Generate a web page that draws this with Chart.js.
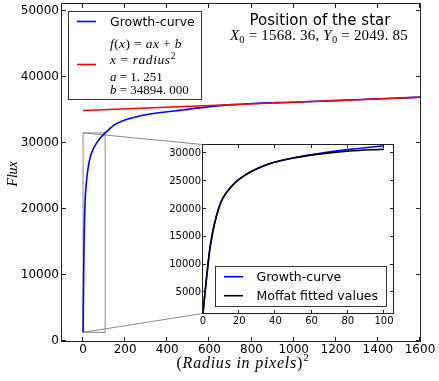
<!DOCTYPE html>
<html>
<head>
<meta charset="utf-8">
<script src="https://cdn.jsdelivr.net/npm/chart.js@4.4.1/dist/chart.umd.min.js"></script>
<style>
  html, body { margin: 0; padding: 0; background: #fff; }
  #quadro { position: relative; width: 439px; height: 381px; }
  #principal { position: absolute; left: 0; top: 0; }
  #inset { position: absolute; left: 160px; top: 140px; }
</style>
</head>
<body>
<div id="quadro">
  <canvas id="principal" width="439" height="381"></canvas>
  <canvas id="inset" width="240" height="190"></canvas>
</div>
<script>
// ------------------------
// Dados
// ------------------------

// Curva de crescimento: raio^2 (px^2) e fluxo acumulado
const raio2 = [0, 1, 4, 9, 16, 25, 36, 49, 64, 81, 100, 121, 144, 169, 196, 225, 256, 289, 324, 361, 400,
  441, 484, 529, 576, 625, 676, 729, 784, 841, 900, 961, 1024, 1089, 1156, 1225, 1296, 1369, 1444, 1521, 1600];
const fluxo = [1300, 4600, 13300, 20500, 24100, 26400, 28050, 29100, 29950, 30700, 31350, 31950, 32600, 33050,
  33400, 33700, 33950, 34200, 34400, 34550, 34700, 34850, 35000, 35200, 35350, 35550, 35700, 35800, 35900,
  36000, 36050, 36100, 36170, 36250, 36340, 36420, 36510, 36600, 36700, 36800, 36900];

// Ajuste linear f(x) = ax + b (pontos extremos)
const ajusteX = [0, 1600];
const ajusteY = [34894, 36896];

// Valores do ajuste de Moffat (só no zoom)
const raio2Moffat = [0, 1, 4, 9, 16, 25, 36, 49, 64, 81, 100];
const fluxoMoffat = [1300, 4650, 13300, 20400, 24150, 26450, 28050, 29100, 29850, 30400, 30720];

// Eixos
const ticksX = [0, 200, 400, 600, 800, 1000, 1200, 1400, 1600];
const ticksY = [0, 10000, 20000, 30000, 40000, 50000];
const limX = [-100, 1600];
const limY = [0, 51000];

const ticksXInset = [0, 20, 40, 60, 80, 100];
const ticksYInset = [5000, 10000, 15000, 20000, 25000, 30000];
const limXInset = [0, 105];
const limYInset = [1310, 31490];

// ------------------------
// Utilidades
// ------------------------

const AZUL = '#0000ff';
const VERMELHO = '#ff0000';
const PRETO = '#000000';

function pontos(xs, ys) {
  return xs.map((x, i) => ({ x, y: ys[i] }));
}

function linha(ctx, x1, y1, x2, y2) {
  ctx.beginPath();
  ctx.moveTo(x1, y1);
  ctx.lineTo(x2, y2);
  ctx.stroke();
}

// Texto "matemático": partes [texto, estilo], estilo = 'i' | 'r' | 'sub' | 'sup'
function desenharMath(ctx, partes, x, y, tam, alinhar, larguraAlvo) {
  const fonte = st => {
    const s = (st === 'sub' || st === 'sup') ? tam * 0.7 : tam;
    return (st === 'i' ? 'italic ' : '') + s + 'px "Liberation Serif"';
  };
  let largura = 0;
  let nChars = 0;
  partes.forEach(([t, st]) => {
    ctx.font = fonte(st);
    largura += ctx.measureText(t).width;
    nChars += t.length;
  });
  let esp = 0;
  if (larguraAlvo) {
    esp = (larguraAlvo - largura) / nChars;
    largura = larguraAlvo;
  }
  let cx = alinhar === 'center' ? x - largura / 2 : x;
  ctx.textAlign = 'left';
  ctx.textBaseline = 'alphabetic';
  partes.forEach(([t, st]) => {
    ctx.font = fonte(st);
    let dy = 0;
    if (st === 'sub') dy = tam * 0.22;
    if (st === 'sup') dy = -tam * 0.42;
    let px = cx;
    for (const c of t) {
      ctx.fillText(c, px, y + dy);
      px += ctx.measureText(c).width + esp;
    }
    cx = px;
  });
}

function fixarTicks(lista) {
  return escala => { escala.ticks = lista.map(v => ({ value: v })); };
}

function fixarTamanho(prop, valor) {
  return escala => {
    escala[prop] = valor;
    escala.paddingLeft = 0;
    escala.paddingRight = 0;
    escala.paddingTop = 0;
    escala.paddingBottom = 0;
  };
}

const semVirgula = v => String(v);

// Moldura com ticks para dentro nos quatro lados
function pluginMoldura(tamTick) {
  return {
    id: 'moldura',
    afterDatasetsDraw(chart) {
      const { ctx, chartArea: a, scales } = chart;
      ctx.save();
      ctx.strokeStyle = '#222';
      ctx.lineWidth = 1;
      ctx.strokeRect(a.left - 0.5, a.top - 0.5, a.right - a.left + 1, a.bottom - a.top + 1);
      scales.x.ticks.forEach(t => {
        const px = Math.round(scales.x.getPixelForValue(t.value)) - 0.5;
        linha(ctx, px, a.bottom, px, a.bottom - tamTick);
        linha(ctx, px, a.top, px, a.top + tamTick);
      });
      scales.y.ticks.forEach(t => {
        const py = Math.round(scales.y.getPixelForValue(t.value)) - 0.5;
        linha(ctx, a.left, py, a.left + tamTick, py);
        linha(ctx, a.right, py, a.right - tamTick, py);
      });
      ctx.restore();
    }
  };
}

const fundoBranco = {
  id: 'fundoBranco',
  beforeDraw(chart) {
    const { ctx, chartArea: a } = chart;
    ctx.save();
    ctx.fillStyle = '#fff';
    ctx.fillRect(a.left, a.top, a.right - a.left, a.bottom - a.top);
    ctx.restore();
  }
};

// ------------------------
// Gráfico do zoom (inset)
// ------------------------

const insetEl = document.getElementById('inset');
const nInset = raio2Moffat.length;

const legendaInset = {
  id: 'legendaInset',
  afterDraw(chart) {
    const ctx = chart.ctx;
    const ds = chart.data.datasets;
    ctx.save();
    ctx.fillStyle = '#fff';
    ctx.strokeStyle = '#333';
    ctx.lineWidth = 1;
    ctx.fillRect(55.5, 126.5, 171, 40);
    ctx.strokeRect(55.5, 126.5, 171, 40);
    ctx.lineWidth = 1.6;
    ctx.strokeStyle = ds[1].borderColor;
    linha(ctx, 64, 136.7, 83, 136.7);
    ctx.strokeStyle = ds[0].borderColor;
    linha(ctx, 64, 155.7, 83, 155.7);
    ctx.fillStyle = '#000';
    ctx.font = '12.5px "DejaVu Sans"';
    ctx.textAlign = 'left';
    ctx.textBaseline = 'alphabetic';
    ctx.fillText(ds[1].label, 96.5, 141);
    ctx.fillText(ds[0].label, 96.5, 160);
    ctx.restore();
  }
};

const graficoInset = new Chart(insetEl, {
  type: 'line',
  data: {
    datasets: [
      {
        label: 'Moffat fitted values',
        data: pontos(raio2Moffat, fluxoMoffat),
        borderColor: PRETO,
        borderWidth: 1.6,
        pointRadius: 0,
        cubicInterpolationMode: 'monotone',
        order: 0
      },
      {
        label: 'Growth-curve',
        data: pontos(raio2.slice(0, nInset), fluxo.slice(0, nInset)),
        borderColor: AZUL,
        borderWidth: 1.6,
        pointRadius: 0,
        cubicInterpolationMode: 'monotone',
        order: 1
      }
    ]
  },
  options: {
    responsive: false,
    animation: false,
    layout: { padding: { left: 0, right: 7, top: 5, bottom: 0 } },
    plugins: { legend: { display: false }, tooltip: { enabled: false } },
    scales: {
      x: {
        type: 'linear',
        min: limXInset[0],
        max: limXInset[1],
        grid: { display: false, drawTicks: false },
        border: { display: false },
        ticks: { color: '#000', padding: 2, maxRotation: 0, callback: semVirgula, font: { family: 'DejaVu Sans', size: 10 } },
        afterBuildTicks: fixarTicks(ticksXInset),
        afterFit: fixarTamanho('height', 17)
      },
      y: {
        type: 'linear',
        min: limYInset[0],
        max: limYInset[1],
        grid: { display: false, drawTicks: false },
        border: { display: false },
        ticks: { color: '#000', padding: 2, callback: semVirgula, font: { family: 'DejaVu Sans', size: 10 } },
        afterBuildTicks: fixarTicks(ticksYInset),
        afterFit: fixarTamanho('width', 43)
      }
    }
  },
  plugins: [fundoBranco, pluginMoldura(3), legendaInset]
});

// ------------------------
// Gráfico principal
// ------------------------

// Retângulo do zoom e linhas até o inset
const marcaZoom = {
  id: 'marcaZoom',
  beforeDatasetsDraw(chart) {
    const { ctx, scales } = chart;
    const x1 = scales.x.getPixelForValue(limXInset[0]);
    const x2 = scales.x.getPixelForValue(limXInset[1]);
    const y1 = scales.y.getPixelForValue(limYInset[1]);
    const y2 = scales.y.getPixelForValue(limYInset[0]);
    const ca = graficoInset.chartArea;
    const ox = insetEl.offsetLeft;
    const oy = insetEl.offsetTop;
    ctx.save();
    ctx.strokeStyle = '#8a8a8a';
    ctx.lineWidth = 1;
    ctx.strokeRect(x1, y1, x2 - x1, y2 - y1);
    linha(ctx, x1, y1, ca.left + ox - 0.5, ca.top + oy - 0.5);
    linha(ctx, x1, y2, ca.left + ox - 0.5, ca.bottom + oy + 0.5);
    ctx.restore();
  }
};

const textosPrincipal = {
  id: 'textosPrincipal',
  afterDraw(chart) {
    const ctx = chart.ctx;
    const ds = chart.data.datasets;
    const a = chart.chartArea;
    ctx.save();

    // legenda
    ctx.fillStyle = '#fff';
    ctx.strokeStyle = '#333';
    ctx.lineWidth = 1;
    ctx.fillRect(68.5, 11.5, 133, 88);
    ctx.strokeRect(68.5, 11.5, 133, 88);
    ctx.lineWidth = 1.6;
    ctx.strokeStyle = ds[1].borderColor;
    linha(ctx, 77, 21.5, 96, 21.5);
    ctx.strokeStyle = ds[0].borderColor;
    linha(ctx, 77, 64.5, 96, 64.5);
    ctx.fillStyle = '#000';
    ctx.font = '12.5px "DejaVu Sans"';
    ctx.textAlign = 'left';
    ctx.textBaseline = 'alphabetic';
    ctx.fillText(ds[1].label, 110, 26);
    desenharMath(ctx, [['f', 'i'], ['(', 'r'], ['x', 'i'], [')', 'r'], [' = ', 'r'], ['ax', 'i'], [' + ', 'r'], ['b', 'i']], 110, 48.3, 13.5, 'left', 72);
    desenharMath(ctx, [['x', 'i'], [' = ', 'r'], ['radius', 'i'], ['2', 'sup']], 110, 64.3, 13.5, 'left', 66);
    desenharMath(ctx, [['a', 'i'], [' = 1. 251', 'r']], 110, 81, 13);
    desenharMath(ctx, [['b', 'i'], [' = 34894. 000', 'r']], 110, 94.3, 13);

    // título com a posição da estrela
    ctx.font = '15px "DejaVu Sans"';
    ctx.textAlign = 'center';
    ctx.fillText('Position of the star', 320, 25);
    desenharMath(ctx, [['X', 'i'], ['0', 'sub'], [' = 1568. 36, ', 'r'], ['Y', 'i'], ['0', 'sub'], [' = 2049. 85', 'r']], 319, 39.5, 15, 'center', 178);

    // títulos dos eixos
    desenharMath(ctx, [['(', 'r'], ['Radius in pixels', 'i'], [')', 'r'], ['2', 'sup']], (a.left + a.right) / 2 + 2, 368, 16, 'center', 133);
    ctx.translate(16.7, 174);
    ctx.rotate(-Math.PI / 2);
    desenharMath(ctx, [['Flux', 'i']], 0, 0, 14, 'center', 25);
    ctx.restore();
  }
};

const graficoPrincipal = new Chart(document.getElementById('principal'), {
  type: 'line',
  data: {
    datasets: [
      {
        label: 'f(x) = ax + b',
        data: pontos(ajusteX, ajusteY),
        borderColor: VERMELHO,
        borderWidth: 1.6,
        pointRadius: 0,
        order: 0
      },
      {
        label: 'Growth-curve',
        data: pontos(raio2, fluxo),
        borderColor: AZUL,
        borderWidth: 1.6,
        pointRadius: 0,
        cubicInterpolationMode: 'monotone',
        order: 1
      }
    ]
  },
  options: {
    responsive: false,
    animation: false,
    layout: { padding: { left: 0, right: 19, top: 4, bottom: 0 } },
    plugins: { legend: { display: false }, tooltip: { enabled: false } },
    scales: {
      x: {
        type: 'linear',
        min: limX[0],
        max: limX[1],
        grid: { display: false, drawTicks: false },
        border: { display: false },
        ticks: { color: '#000', padding: 2, maxRotation: 0, callback: semVirgula, font: { family: 'DejaVu Sans', size: 12 } },
        afterBuildTicks: fixarTicks(ticksX),
        afterFit: fixarTamanho('height', 40)
      },
      y: {
        type: 'linear',
        min: limY[0],
        max: limY[1],
        grid: { display: false, drawTicks: false },
        border: { display: false },
        ticks: { color: '#000', padding: 3, callback: semVirgula, font: { family: 'DejaVu Sans', size: 12 } },
        afterBuildTicks: fixarTicks(ticksY),
        afterFit: fixarTamanho('width', 62)
      }
    }
  },
  plugins: [marcaZoom, pluginMoldura(4), textosPrincipal]
});
</script>
</body>
</html>
